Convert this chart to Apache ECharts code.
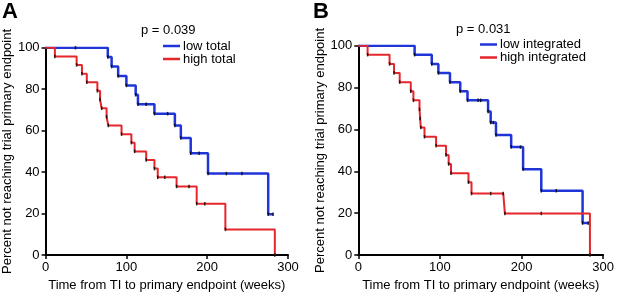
<!DOCTYPE html>
<html>
<head>
<meta charset="utf-8">
<script src="https://cdn.jsdelivr.net/npm/echarts/dist/echarts.min.js"></script>
<style>
  html, body { margin: 0; padding: 0; background: #fff; }
  #chart { width: 617px; height: 297px; }
</style>
</head>
<body>
<div id="chart"></div>
<script>
// panel A : low total / high total
const lowTotalT = [0, 37, 77, 81.7, 89.8, 100, 111.5, 114.3, 124.5, 134.7, 151, 160, 167.4, 179.6, 190, 201, 223.7, 243, 275.5, 281.6];
const lowTotalS = [100, 100, 95.5, 90.9, 86.4, 81.8, 77.3, 72.7, 72.7, 68.2, 68.2, 62.5, 56.5, 49.1, 49.1, 39.3, 39.3, 39.3, 19.7, 19.7];
const highTotalT = [0, 11.5, 38.4, 45, 51, 64.1, 67.4, 69.4, 75.5, 77.6, 94, 106.2, 110.2, 124.5, 134.7, 138.8, 147.5, 162.1, 177.5, 187, 197, 222.5, 283.7];
const highTotalS = [100, 95.8, 91.7, 87.5, 83.3, 79.2, 75, 70.8, 66.7, 62.5, 58.3, 54.2, 50, 45.8, 41.7, 37.5, 37.5, 33.1, 33.1, 24.8, 24.8, 12.4, 0];

// panel B : low integrated / high integrated
const lowIntT = [0, 69, 90, 98.1, 112.3, 124.9, 133.8, 146.8, 150, 159, 162.2, 165.5, 168.7, 187.3, 198.7, 201.9, 224.2, 242.5, 274.8, 281.8];
const lowIntS = [100, 95.7, 91.3, 87, 82.6, 78.3, 73.9, 73.9, 73.9, 68.6, 63.3, 63.3, 57.4, 51.6, 51.6, 41.0, 30.7, 30.7, 15.3, 15.3];
const highIntT = [0, 11.4, 38.3, 43.8, 50.7, 64.3, 67.5, 75, 75.8, 76.6, 81.1, 95.3, 107.5, 110.7, 113.6, 135, 138.7, 162.2, 177.6, 179.6, 224.2, 283.8];
const highIntS = [100, 95.7, 91.3, 87, 82.6, 78.3, 73.9, 69.6, 65.2, 60.9, 56.5, 52.2, 47.8, 43.5, 39.1, 34.8, 29.4, 29.4, 29.4, 19.9, 19.9, 0];

const xTicks = [0, 100, 200, 300];
const yTicks = [0, 20, 40, 60, 80, 100];
const panels = ['A', 'B'];
const pValues = ['p = 0.039', 'p = 0.031'];
const names = [['low total', 'high total'], ['low integrated', 'high integrated']];

const BLUE = '#1f35d8';
const RED = '#e5262b';
const FONT = 'Liberation Sans';

function pairs(t, s) {
  return t.map(function (v, i) { return [v, s[i]]; });
}

function axisX(idx) {
  return {
    gridIndex: idx, type: 'value', min: xTicks[0], max: xTicks[xTicks.length - 1], interval: 100,
    name: 'Time from TI to primary endpoint (weeks)', nameLocation: 'middle', nameGap: 21,
    nameTextStyle: { color: '#000', fontSize: 13, fontFamily: FONT },
    axisLine: { show: true, onZero: false, lineStyle: { color: '#000', width: 2 } },
    axisTick: { show: true, length: 4, lineStyle: { color: '#000', width: 1.5 } },
    axisLabel: { color: '#000', fontSize: 13, fontFamily: FONT, margin: 6 },
    splitLine: { show: false }
  };
}

function axisY(idx, gap) {
  return {
    gridIndex: idx, type: 'value', min: yTicks[0], max: yTicks[yTicks.length - 1], interval: 20,
    name: 'Percent not reaching trial primary endpoint', nameLocation: 'middle', nameGap: gap,
    nameTextStyle: { color: '#000', fontSize: 13, fontFamily: FONT },
    axisLine: { show: true, onZero: false, lineStyle: { color: '#000', width: 2 } },
    axisTick: { show: true, length: 4, lineStyle: { color: '#000', width: 1.5 } },
    axisLabel: { color: '#000', fontSize: 13, fontFamily: FONT, margin: 6 },
    splitLine: { show: false }
  };
}

function curve(name, idx, color, width, t, s) {
  return {
    name: name, type: 'line', step: 'end', xAxisIndex: idx, yAxisIndex: idx,
    data: pairs(t, s), symbol: 'none', showSymbol: false,
    lineStyle: { color: color, width: width }, itemStyle: { color: color },
    z: 2, animation: false
  };
}

function marks(idx, t, s) {
  return {
    type: 'scatter', xAxisIndex: idx, yAxisIndex: idx,
    data: pairs(t, s).slice(1), symbol: 'rect', symbolSize: [1.5, 3.5],
    itemStyle: { color: '#000' }, z: 3, silent: true, animation: false
  };
}

function legendAt(list, left, top) {
  return {
    data: list, orient: 'vertical', left: left, top: top, padding: 0,
    icon: 'rect', itemWidth: 17, itemHeight: 2.5, itemGap: 0,
    textStyle: { color: '#000', fontSize: 13, fontFamily: FONT, lineHeight: 12.6, padding: [0, 0, 0, -2] }
  };
}

const chart = echarts.init(document.getElementById('chart'), null, { renderer: 'canvas' });
chart.setOption({
  backgroundColor: '#fff',
  animation: false,
  grid: [
    { left: 43.3, width: 244.7, top: 47.7, bottom: 37.7 },
    { left: 358.3, width: 246.7, top: 45.7, bottom: 37.7 }
  ],
  xAxis: [axisX(0), axisX(1)],
  yAxis: [axisY(0, 30), axisY(1, 31)],
  legend: [legendAt(names[0], 163, 39.5), legendAt(names[1], 480, 38)],
  graphic: [
    { type: 'text', left: 2, top: 1, style: { text: panels[0], font: 'bold 22px "Liberation Sans"', fill: '#000' } },
    { type: 'text', left: 313, top: 1, style: { text: panels[1], font: 'bold 22px "Liberation Sans"', fill: '#000' } },
    { type: 'text', left: 141, top: 24, style: { text: pValues[0], font: '13px "Liberation Sans"', fill: '#000' } },
    { type: 'text', left: 456, top: 23, style: { text: pValues[1], font: '13px "Liberation Sans"', fill: '#000' } }
  ],
  series: [
    curve(names[0][0], 0, BLUE, 2.5, lowTotalT, lowTotalS),
    curve(names[0][1], 0, RED, 2, highTotalT, highTotalS),
    marks(0, lowTotalT, lowTotalS),
    marks(0, highTotalT, highTotalS),
    curve(names[1][0], 1, BLUE, 2.5, lowIntT, lowIntS),
    curve(names[1][1], 1, RED, 2, highIntT, highIntS),
    marks(1, lowIntT, lowIntS),
    marks(1, highIntT, highIntS)
  ]
});
</script>
</body>
</html>
